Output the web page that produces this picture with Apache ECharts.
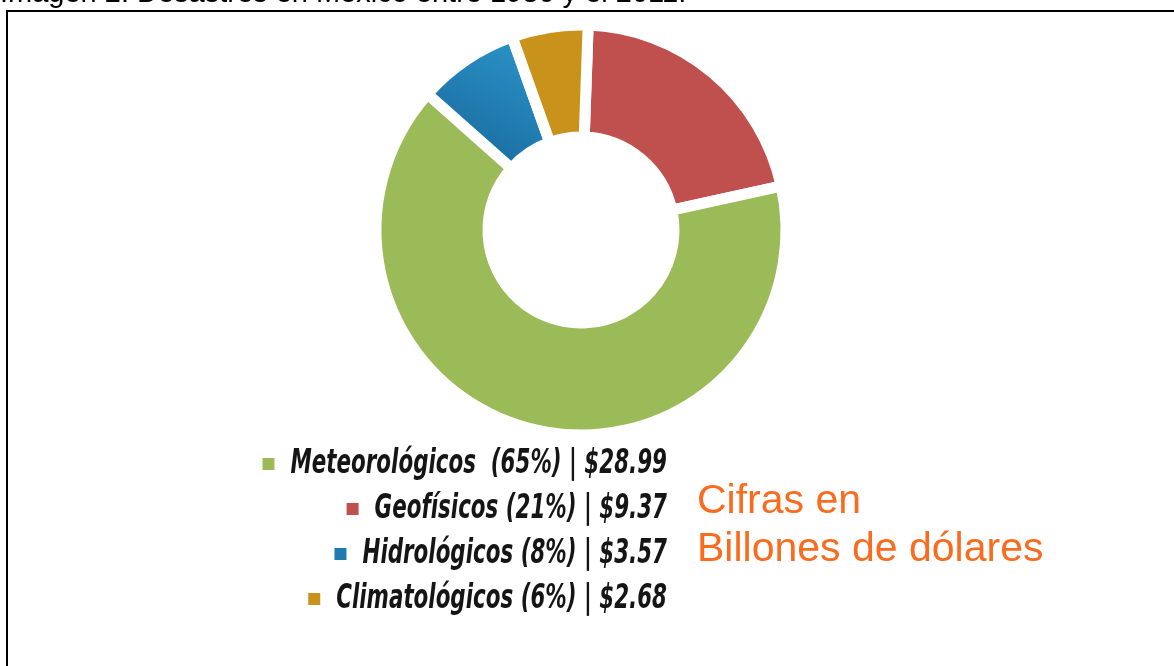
<!DOCTYPE html>
<html>
<head>
<meta charset="utf-8">
<script src="https://cdn.jsdelivr.net/npm/echarts@6/dist/echarts.min.js"></script>
<style>
html,body{margin:0;padding:0;background:#fff;}
#c{width:1174px;height:666px;}
</style>
</head>
<body>
<div id="c"></div>
<script>
// Data
const categories = ['Geofísicos', 'Meteorológicos', 'Hidrológicos', 'Climatológicos'];
const values = [9.37, 28.99, 3.57, 2.68];          // billions of dollars
const percents = [21, 65, 8, 6];
const legendOrder = ['Meteorológicos', 'Geofísicos', 'Hidrológicos', 'Climatológicos'];
const titleText = 'Imagen 2. Desastres en México entre 1980 y el 2011.';
const noteLines = ['Cifras en', 'Billones de dólares'];

const solid = {
  'Geofísicos': '#c0504d',
  'Meteorológicos': '#9bbb59',
  'Hidrológicos': '#1f7ab2',
  'Climatológicos': '#c9921a'
};
const fills = Object.assign({}, solid, {
  'Hidrológicos': {
    type: 'linear', x: 0.8, y: 0, x2: 0.2, y2: 1,
    colorStops: [{offset: 0, color: '#2c96ca'}, {offset: 1, color: '#17659a'}]
  }
});

const chart = echarts.init(document.getElementById('c'), null, {renderer: 'canvas'});

// legend lines (text compressed horizontally to imitate a condensed face)
const SX = 0.70;
const legendCenters = [464, 509, 554, 599];
const legendRight = 667;
const legendGraphics = legendOrder.map((name, i) => {
  const k = categories.indexOf(name);
  const sp = name === 'Meteorológicos' ? '  ' : ' ';
  return {
    type: 'text', x: legendRight, y: legendCenters[i], scaleX: SX, silent: true,
    style: {
      text: '{sq|}{t|' + name + sp + '(' + percents[k] + '%) | $' + values[k].toFixed(2) + '}',
      align: 'right', verticalAlign: 'middle',
      rich: {
        sq: {width: 12 / SX, height: 12, backgroundColor: solid[name]},
        t: {
          fontFamily: "'DejaVu Sans Condensed', 'DejaVu Sans', sans-serif",
          fontWeight: 'bold', fontStyle: 'italic', fontSize: 34,
          fill: '#151515', padding: [0, 0, 0, 16 / SX]
        }
      }
    }
  };
});

chart.setOption({
  animation: false,
  graphic: [
    {
      type: 'rect', silent: true,
      shape: {x: 7, y: 11, width: 1200, height: 700},
      style: {fill: 'none', stroke: '#000', lineWidth: 2}
    },
    {
      type: 'text', x: 0, y: -6, silent: true,
      style: {
        text: titleText, fill: '#000',
        font: "29px 'Liberation Sans', Arial, sans-serif",
        verticalAlign: 'middle'
      }
    },
    {
      type: 'text', x: 697, y: 502, silent: true,
      style: {
        text: noteLines[0], fill: '#f96b1f',
        font: "41px 'Liberation Sans', Arial, sans-serif",
        verticalAlign: 'middle'
      }
    },
    {
      type: 'text', x: 697, y: 550, silent: true,
      style: {
        text: noteLines[1], fill: '#f96b1f',
        font: "41px 'Liberation Sans', Arial, sans-serif",
        verticalAlign: 'middle'
      }
    }
  ].concat(legendGraphics),
  series: [{
    type: 'pie',
    center: [581, 230],
    radius: [93, 205],
    startAngle: 88,
    clockwise: true,
    silent: true,
    label: {show: false},
    labelLine: {show: false},
    itemStyle: {borderColor: '#fff', borderWidth: 11},
    data: categories.map((n, i) => ({
      name: n, value: values[i],
      itemStyle: {color: fills[n]}
    }))
  }]
});
</script>
</body>
</html>
